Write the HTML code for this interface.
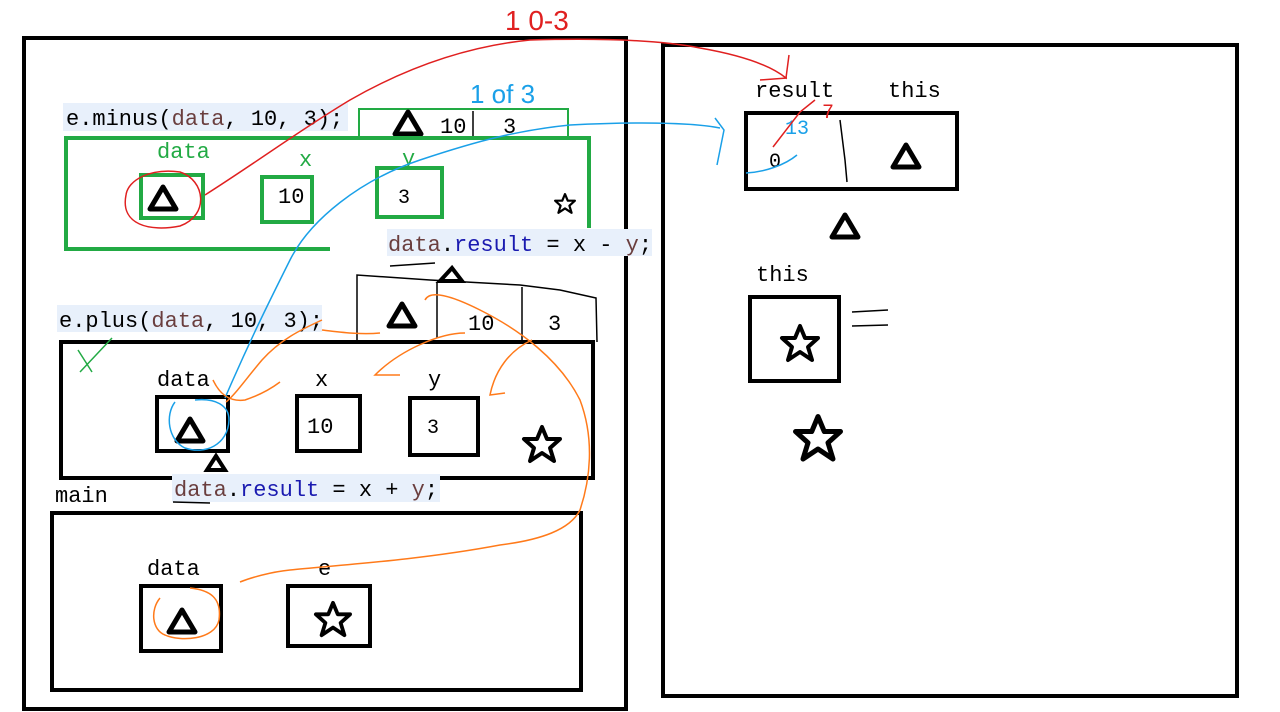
<!DOCTYPE html>
<html><head><meta charset="utf-8"><style>
html,body{margin:0;padding:0;background:#fff;}
svg{display:block;}
text{font-family:"Liberation Mono",monospace;font-size:22px;}
</style></head><body>
<svg width="1280" height="712" viewBox="0 0 1280 712" xmlns="http://www.w3.org/2000/svg">
<defs>
<g id="tri"><polygon points="0,-12 13,10 -13,10" fill="none" stroke="#000" stroke-width="5" stroke-linejoin="round"/></g>
<g id="star"><polygon points="0,-18 5,-6 18,-6 8,3 12,16 0,8 -12,16 -8,3 -18,-6 -5,-6" fill="none" stroke="#000" stroke-width="4" stroke-linejoin="round"/></g>
</defs>
<!-- big boxes -->
<rect x="24" y="38" width="602" height="671" fill="none" stroke="#000" stroke-width="4"/>
<rect x="663" y="45" width="574" height="651" fill="none" stroke="#000" stroke-width="4"/>

<!-- minus section -->
<rect x="63" y="103" width="285" height="28" fill="#e8f0fb"/>
<text x="66" y="125" fill="#000">e.minus(<tspan fill="#6a3e3e">data</tspan>, 10, 3);</text>
<rect x="359" y="109" width="209" height="28" fill="none" stroke="#22aa44" stroke-width="2"/>
<use href="#tri" x="408" y="124"/>
<text x="440" y="133">10</text>
<line x1="473" y1="111" x2="473" y2="136" stroke="#000" stroke-width="1.5"/>
<text x="503" y="133">3</text>
<text x="470" y="103" fill="#1aa0e8" font-size="26" style="font-family:'Liberation Sans',sans-serif;font-size:26px">1 of 3</text>
<path d="M330 249 L66 249 L66 138 L589 138 L589 228" fill="none" stroke="#22aa44" stroke-width="4"/>
<text x="157" y="158" fill="#22aa44">data</text>
<rect x="141" y="175" width="62" height="43" fill="none" stroke="#22aa44" stroke-width="4"/>
<use href="#tri" x="163" y="199"/>
<text x="299" y="166" fill="#22aa44">x</text>
<rect x="262" y="177" width="50" height="45" fill="none" stroke="#22aa44" stroke-width="4"/>
<text x="278" y="203">10</text>
<text x="402" y="165" fill="#22aa44">y</text>
<rect x="377" y="168" width="65" height="49" fill="none" stroke="#22aa44" stroke-width="4"/>
<text x="398" y="203" style="font-size:20px">3</text>
<use href="#star" x="565" y="204" transform="translate(565 204) scale(0.55) translate(-565 -204)"/>
<rect x="387" y="229" width="265" height="27" fill="#e8f0fb"/>
<text x="388" y="251"><tspan fill="#6a3e3e">data</tspan>.<tspan fill="#1a1ab0">result</tspan> = x - <tspan fill="#6a3e3e">y</tspan>;</text>

<!-- hand table -->
<path d="M390 266 L435 263 M357 342 L357 275 L430 280 L520 285 L560 290 L596 298 L597 342" fill="none" stroke="#000" stroke-width="1.5"/>
<line x1="437" y1="282" x2="437" y2="338" stroke="#000" stroke-width="1.5"/>
<line x1="522" y1="287" x2="522" y2="340" stroke="#000" stroke-width="1.5"/>
<path d="M440 281 L452 268 L462 281 Z" fill="none" stroke="#000" stroke-width="4"/>
<use href="#tri" x="402" y="316"/>
<text x="468" y="330">10</text>
<text x="548" y="330">3</text>

<!-- plus section -->
<rect x="57" y="305" width="265" height="27" fill="#e8f0fb"/>
<text x="59" y="327">e.plus(<tspan fill="#6a3e3e">data</tspan>, 10, 3);</text>
<rect x="61" y="342" width="532" height="136" fill="none" stroke="#000" stroke-width="4"/>
<path d="M78 350 L92 372 M80 372 L112 338" stroke="#22aa44" stroke-width="1.5" fill="none"/>
<text x="157" y="386">data</text>
<rect x="157" y="397" width="71" height="54" fill="none" stroke="#000" stroke-width="4"/>
<use href="#tri" x="190" y="431"/>
<text x="315" y="386">x</text>
<rect x="297" y="396" width="63" height="55" fill="none" stroke="#000" stroke-width="4"/>
<text x="307" y="433">10</text>
<text x="428" y="386">y</text>
<rect x="410" y="398" width="68" height="57" fill="none" stroke="#000" stroke-width="4"/>
<text x="427" y="433" style="font-size:20px">3</text>
<use href="#star" x="542" y="445"/>
<path d="M207 470 L216 456 L225 470 Z" fill="none" stroke="#000" stroke-width="4"/>
<rect x="172" y="474" width="268" height="28" fill="#e8f0fb"/>
<text x="174" y="496"><tspan fill="#6a3e3e">data</tspan>.<tspan fill="#1a1ab0">result</tspan> = x + <tspan fill="#6a3e3e">y</tspan>;</text>
<path d="M173 502 L210 503" stroke="#000" stroke-width="1.5"/>

<!-- main -->
<text x="55" y="502">main</text>
<rect x="52" y="513" width="529" height="177" fill="none" stroke="#000" stroke-width="4"/>
<text x="147" y="575">data</text>
<rect x="141" y="586" width="80" height="65" fill="none" stroke="#000" stroke-width="4"/>
<use href="#tri" x="182" y="622"/>
<text x="318" y="575">e</text>
<rect x="288" y="586" width="82" height="60" fill="none" stroke="#000" stroke-width="4"/>
<use href="#star" x="333" y="620" transform="translate(333 620) scale(0.95) translate(-333 -620)"/>

<!-- right side -->
<text x="755" y="97">result</text>
<text x="888" y="97">this</text>
<rect x="746" y="113" width="211" height="76" fill="none" stroke="#000" stroke-width="4"/>
<path d="M840 120 L845 160 L847 182" stroke="#000" stroke-width="1.5" fill="none"/>
<use href="#tri" x="906" y="157"/>
<text x="769" y="167" style="font-size:20px">0</text>
<text x="785" y="134" fill="#1aa0e8" style="font-size:20px">13</text>
<text x="822" y="118" fill="#e02020" style="font-size:20px">7</text>
<path d="M773 147 L800 112 L815 100" stroke="#e02020" stroke-width="1.5" fill="none"/>
<use href="#tri" x="845" y="227"/>
<text x="756" y="281">this</text>
<rect x="750" y="297" width="89" height="84" fill="none" stroke="#000" stroke-width="4"/>
<use href="#star" x="800" y="344"/>
<path d="M852 312 L888 310 M852 326 L888 325" stroke="#000" stroke-width="1.5"/>
<use href="#star" x="818" y="439" transform="translate(818 439) scale(1.25) translate(-818 -439)"/>

<!-- red annotations -->
<text x="505" y="30" fill="#e02020" style="font-family:'Liberation Sans',sans-serif;font-size:28px">1 0-3</text>
<path d="M126 195 C120 225 150 232 180 226 C210 215 205 180 180 172 C150 168 128 180 126 195" fill="none" stroke="#e02020" stroke-width="1.5"/>
<path d="M205 195 C260 160 300 130 350 100 C420 60 480 45 530 40 C600 38 660 40 700 48 C740 55 770 65 786 78 L789 55" fill="none" stroke="#e02020" stroke-width="1.5"/>
<path d="M760 80 L787 78" stroke="#e02020" stroke-width="1.5"/>

<!-- blue annotations -->
<path d="M225 398 C250 340 270 300 290 260 C310 220 360 180 420 160 C480 140 520 130 570 125 C630 122 690 122 720 128" fill="none" stroke="#1aa0e8" stroke-width="1.5"/>
<path d="M715 118 L724 130 L717 165" fill="none" stroke="#1aa0e8" stroke-width="1.5"/>
<path d="M746 173 C765 172 785 165 797 155" fill="none" stroke="#1aa0e8" stroke-width="1.5"/>
<path d="M175 402 C165 415 168 440 185 448 C205 455 228 445 229 420 C229 405 215 398 195 400" fill="none" stroke="#1aa0e8" stroke-width="1.5"/>

<!-- orange annotations -->
<path d="M322 320 C300 330 280 340 262 360 C245 380 235 395 226 402" fill="none" stroke="#ff7a1a" stroke-width="1.5"/>
<path d="M213 380 C220 395 230 402 245 400 C260 395 272 388 280 382" fill="none" stroke="#ff7a1a" stroke-width="1.5"/>
<path d="M322 330 C340 332 360 335 380 333" fill="none" stroke="#ff7a1a" stroke-width="1.5"/>
<path d="M465 333 C440 333 400 350 375 375 L400 375" fill="none" stroke="#ff7a1a" stroke-width="1.5"/>
<path d="M532 340 C510 350 495 370 490 395 L505 393" fill="none" stroke="#ff7a1a" stroke-width="1.5"/>
<path d="M425 300 C430 290 450 295 480 310 C520 330 560 360 580 400 C595 440 590 480 580 510 C570 530 540 540 500 545 C420 560 340 565 290 570 C270 572 250 578 240 582" fill="none" stroke="#ff7a1a" stroke-width="1.5"/>
<path d="M160 598 C150 610 152 630 165 635 C180 642 215 640 219 620 C222 598 210 590 190 588" fill="none" stroke="#ff7a1a" stroke-width="1.5"/>
</svg>
</body></html>
